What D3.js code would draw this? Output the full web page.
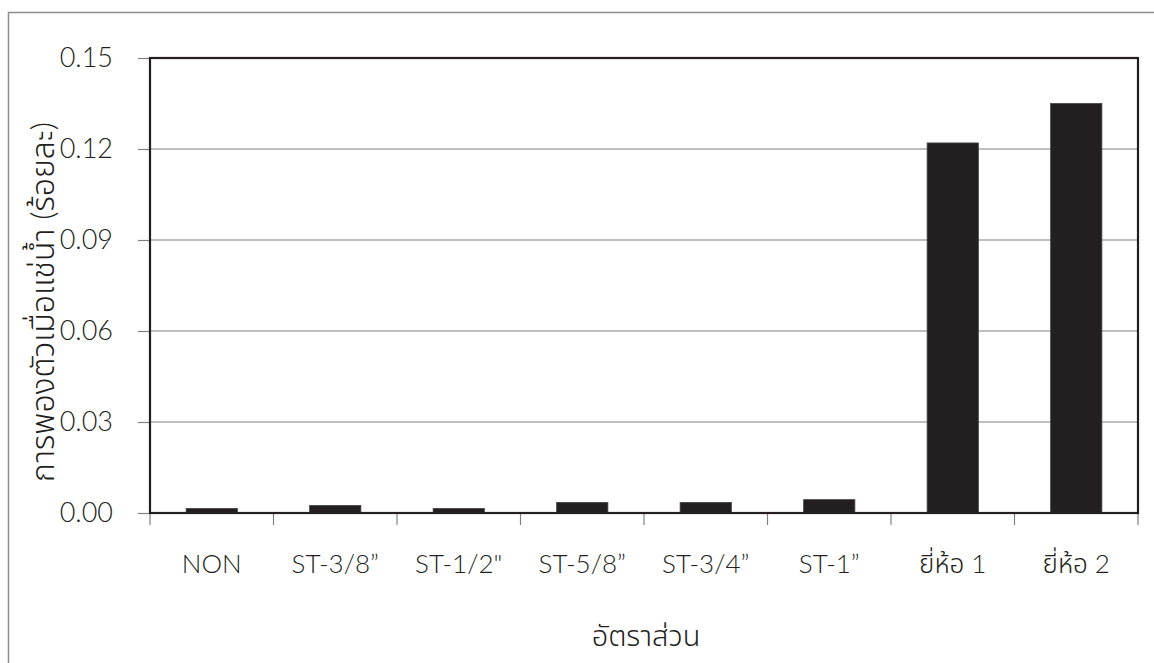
<!DOCTYPE html>
<html>
<head>
<meta charset="utf-8">
<script src="https://cdn.jsdelivr.net/npm/d3@7/dist/d3.min.js"></script>
<style>
  html, body { margin: 0; padding: 0; background: #fff; }
  svg { display: block; }
  text { font-family: Lato, "Noto Sans Thai", "Noto Sans", sans-serif; font-weight: 300; fill: #231f20; }
</style>
</head>
<body>
<svg id="chart" width="1154" height="663"></svg>
<script>
// Swelling after water immersion (percent) per mix
const categories = ["NON", "ST-3/8\u201d", "ST-1/2\"", "ST-5/8\u201d", "ST-3/4\u201d", "ST-1\u201d", "ยี่ห้อ 1", "ยี่ห้อ 2"];
const swelling = [0.0015, 0.0025, 0.0015, 0.0035, 0.0035, 0.0044, 0.122, 0.135];
const yTicks = [0, 0.03, 0.06, 0.09, 0.12, 0.15];
const xTitle = "อัตราส่วน";
const yTitle = "การพองตัวเมื่อแช่น้ำ (ร้อยละ)";

const svg = d3.select("#chart");
const W = 1154, H = 663;
const m = { left: 150, right: 16, top: 58, bottom: 150 };
const iw = W - m.left - m.right, ih = H - m.top - m.bottom;

// outer frame
svg.append("rect")
  .attr("x", 8.5).attr("y", 12.5)
  .attr("width", W + 10).attr("height", H + 10)
  .attr("fill", "none").attr("stroke", "#8c8c8c").attr("stroke-width", 1.5);

const g = svg.append("g").attr("transform", `translate(${m.left},${m.top})`);

const x = d3.scaleBand().domain(categories).range([0, iw]).paddingInner(0.585).paddingOuter(0.2925);
const xb = d3.scaleBand().domain(categories).range([0, iw]);
const y = d3.scaleLinear().domain([0, 0.15]).range([ih, 0]);

// gridlines
g.append("g").selectAll("line").data(yTicks.filter(d => d > 0)).join("line")
  .attr("x1", 0).attr("x2", iw)
  .attr("y1", d => y(d)).attr("y2", d => y(d))
  .attr("stroke", "#808080").attr("stroke-width", 1.2);

// y axis ticks + labels
const yAxis = g.append("g").call(d3.axisLeft(y).tickValues(yTicks).tickFormat(d3.format(".2f")).tickSize(12).tickPadding(25));
yAxis.select(".domain").remove();
yAxis.selectAll(".tick line").attr("stroke", "#808080").attr("stroke-width", 1.2);
yAxis.selectAll(".tick text").style("font-size", "27px").attr("font-family", null).attr("fill", "#231f20");

// x-axis ticks at category boundaries
const boundaries = categories.map(c => xb(c)).concat([iw]);
g.append("g").selectAll("line").data(boundaries).join("line")
  .attr("x1", d => d).attr("x2", d => d)
  .attr("y1", ih).attr("y2", ih + 12)
  .attr("stroke", "#808080").attr("stroke-width", 1.2);

// bars
g.append("g").selectAll("rect").data(swelling).join("rect")
  .attr("x", (d, i) => x(categories[i]))
  .attr("y", d => y(d))
  .attr("width", x.bandwidth())
  .attr("height", d => ih - y(d))
  .attr("fill", "#231f20")
  .attr("stroke", "#444").attr("stroke-width", 0.8);

// plot frame
g.append("rect").attr("x", 0).attr("y", 0).attr("width", iw).attr("height", ih)
  .attr("fill", "none").attr("stroke", "#231f20").attr("stroke-width", 2.2);

// category labels
g.append("g").selectAll("text").data(categories).join("text")
  .attr("x", d => xb(d) + xb.bandwidth() / 2)
  .attr("y", ih + 60)
  .attr("text-anchor", "middle")
  .style("font-size", "26px")
  .text(d => d);

// axis titles
svg.append("text")
  .attr("x", m.left + iw / 2 + 2).attr("y", 646)
  .attr("text-anchor", "middle")
  .style("font-size", "29px")
  .text(xTitle);

svg.append("text")
  .attr("transform", `translate(54,302) rotate(-90)`)
  .attr("text-anchor", "middle")
  .style("font-size", "32px")
  .text(yTitle);
</script>
</body>
</html>
